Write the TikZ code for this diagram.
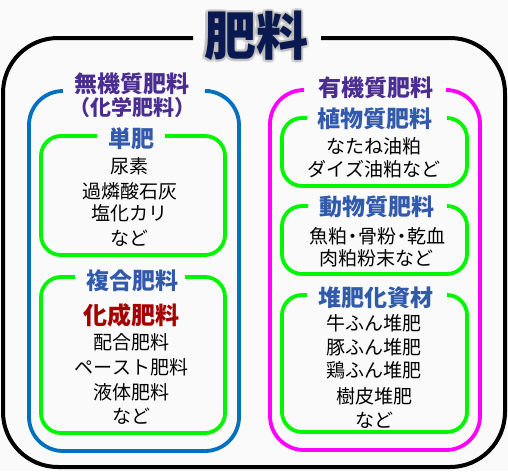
\documentclass[tikz,border=0pt]{standalone}
\usepackage{fontspec}
\setmainfont{Noto Sans CJK JP}
\definecolor{bg}{RGB}{250,250,250}
\definecolor{boxblue}{RGB}{0,112,192}
\definecolor{boxmag}{RGB}{255,0,255}
\definecolor{boxgreen}{RGB}{0,245,0}
\definecolor{labpurple}{RGB}{75,45,145}
\definecolor{labblue}{RGB}{50,90,170}
\definecolor{darkred}{RGB}{165,0,0}
\definecolor{titlenavy}{RGB}{10,25,80}
\newcommand\gapbox[8]{%
  \draw[#1, rounded corners=#8] (#6,#3) -- (#2,#3) -- (#2,#5) -- (#4,#5) -- (#4,#3) -- (#7,#3);}
\newcommand\tightdot{\kern-4pt・\kern-4pt}
\begin{document}
\begin{tikzpicture}[x=1pt,y=-1pt,
  every node/.style={inner sep=0pt},
  item/.style={font=\fontsize{19}{19}\selectfont, text=black, text height=15.8pt, text depth=1.3pt},
  sublabel/.style={font=\fontsize{23}{23}\selectfont\bfseries, text=labblue, text height=19.1pt, text depth=1.6pt},
  mainlabel/.style={font=\fontsize{23}{23}\selectfont\bfseries, text=labpurple, text height=19.1pt, text depth=1.6pt},
  titlefont/.style={font=\fontsize{52}{52}\selectfont\bfseries, text height=43.2pt, text depth=3.6pt},
  outerline/.style={line width=4pt, draw=black},
  blueline/.style={line width=3.8pt, draw=boxblue},
  magline/.style={line width=3.8pt, draw=boxmag},
  greenline/.style={line width=3.8pt, draw=boxgreen}]
\fill[bg] (0,0) rectangle (508,471);
\useasboundingbox (0,0) rectangle (508,471);
% frames
\gapbox{outerline}{3}{38}{505}{467}{193}{321}{55}
\gapbox{blueline}{29}{91}{239}{451}{63}{210}{34}
\gapbox{magline}{270}{90}{480}{450}{303}{450}{34}
\gapbox{greenline}{41}{136}{225}{255}{97}{165}{20}
\gapbox{greenline}{41}{277}{225}{433}{75}{185}{20}
\gapbox{greenline}{282}{118}{467}{186}{307}{447}{20}
\gapbox{greenline}{282}{206}{467}{274}{308}{447}{20}
\gapbox{greenline}{282}{295}{467}{432}{307}{447}{20}
% title with glow
\foreach \a in {0,30,...,330}
  \node[titlefont, text=gray!60, opacity=0.3] (glow\a) at ([shift={(\a:2.5)}]256,36) {肥料};
\node[titlefont, text=titlenavy] (title) at (256,36) {肥料};
% main labels
\node[mainlabel] (inorg) at (132,84) {無機質肥料};
\node[mainlabel, font=\fontsize{21}{21}\selectfont\bfseries, text height=17.4pt, text depth=1.5pt] (inorgsub) at (132,108) {（化学肥料）};
\node[mainlabel] (org) at (376,88) {有機質肥料};
% sub labels
\node[sublabel] (tanpi) at (131,139) {単肥};
\node[sublabel] (fukugo) at (132,281) {複合肥料};
\node[sublabel] (shoku) at (375,119) {植物質肥料};
\node[sublabel] (doubu) at (377,207) {動物質肥料};
\node[sublabel] (taihi) at (376,298) {堆肥化資材};
\node[font=\fontsize{24}{24}\selectfont\bfseries, text=darkred, text height=19.9pt, text depth=1.7pt] (kasei) at (131.5,315) {化成肥料};
% items: 単肥
\node[item] (l1a) at (129.5,166) {尿素};
\node[item] (l1b) at (129.5,191) {過燐酸石灰};
\node[item] (l1c) at (129.5,213) {塩化カリ};
\node[item] (l1d) at (129.5,238) {など};
% items: 複合肥料
\node[item] (l2a) at (131.5,342) {配合肥料};
\node[item] (l2b) at (131.5,367) {ペースト肥料};
\node[item] (l2c) at (131.5,392) {液体肥料};
\node[item] (l2d) at (131.5,416) {など};
% items: 植物質肥料
\node[item] (r1a) at (374,146) {なたね油粕};
\node[item] (r1b) at (374,169) {ダイズ油粕など};
% items: 動物質肥料
\node[item] (r2a) at (377,236) {魚粕\tightdot 骨粉\tightdot 乾血};
\node[item] (r2b) at (376,258) {肉粕粉末など};
% items: 堆肥化資材
\node[item] (r3a) at (374,323) {牛ふん堆肥};
\node[item] (r3b) at (374,347) {豚ふん堆肥};
\node[item] (r3c) at (374,370) {鶏ふん堆肥};
\node[item] (r3d) at (374,396) {樹皮堆肥};
\node[item] (r3e) at (374,420) {など};
\end{tikzpicture}
\end{document}
